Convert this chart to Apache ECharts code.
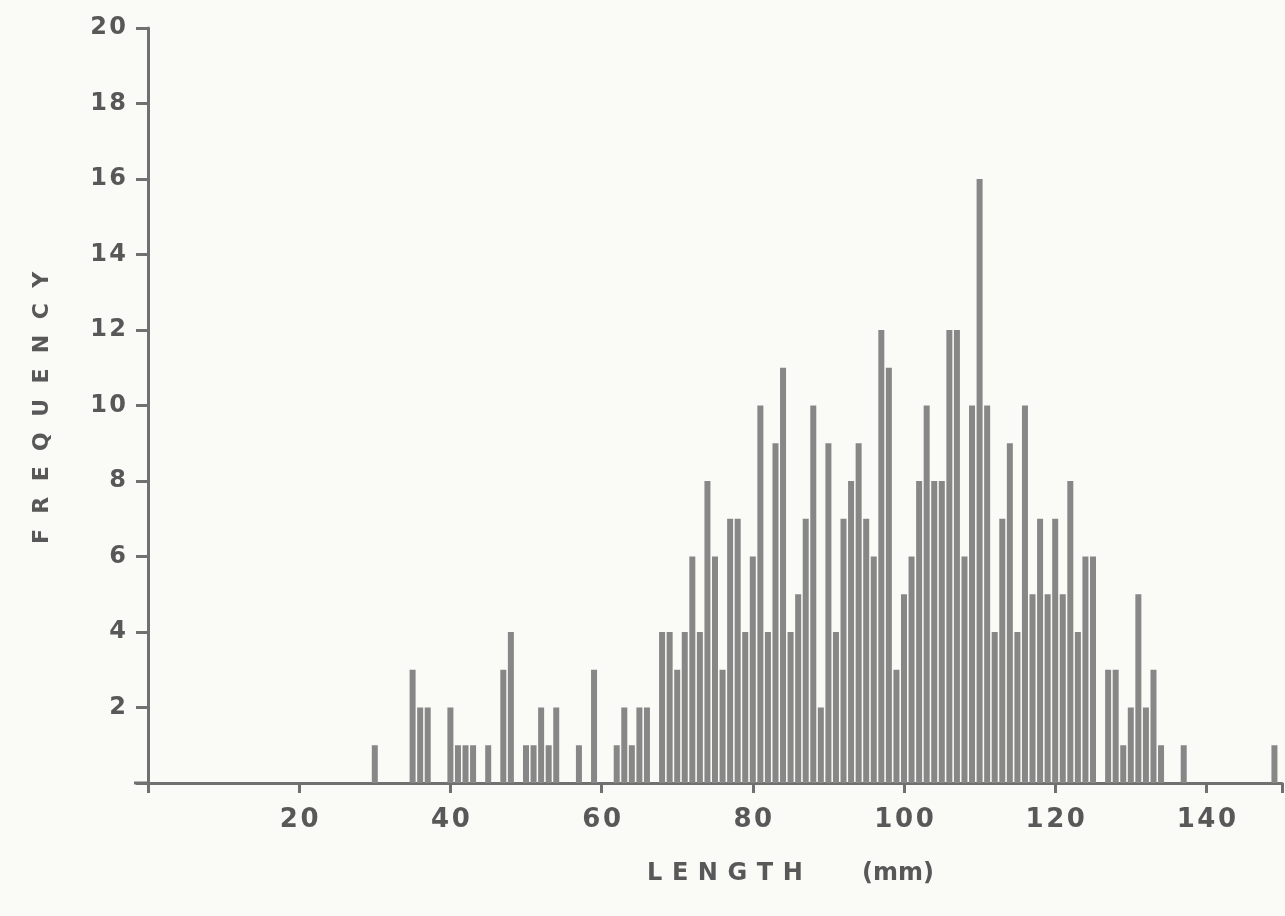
<!DOCTYPE html>
<html>
<head>
<meta charset="utf-8">
<title>Length frequency</title>
<script src="https://cdn.jsdelivr.net/npm/echarts@6/dist/echarts.min.js"></script>
<style>
  html, body { margin: 0; padding: 0; background: #fafaf6; }
  #chart { width: 1285px; height: 916px; }
</style>
</head>
<body>
<div id="chart"></div>
<script>
// length classes (mm) and their counts
const lengths = [
  30, 35, 36, 37, 40, 41, 42, 43, 45, 47, 48, 50, 51, 52, 53, 54, 57, 59,
  62, 63, 64, 65, 66, 68, 69, 70, 71, 72, 73, 74, 75, 76, 77, 78, 79,
  80, 81, 82, 83, 84, 85, 86, 87, 88, 89, 90, 91, 92, 93, 94, 95, 96, 97, 98, 99,
  100, 101, 102, 103, 104, 105, 106, 107, 108, 109, 110, 111, 112, 113, 114, 115,
  116, 117, 118, 119, 120, 121, 122, 123, 124, 125, 127, 128, 129, 130, 131, 132,
  133, 134, 137, 149
];
const counts = [
  1, 3, 2, 2, 2, 1, 1, 1, 1, 3, 4, 1, 1, 2, 1, 2, 1, 3,
  1, 2, 1, 2, 2, 4, 4, 3, 4, 6, 4, 8, 6, 3, 7, 7, 4,
  6, 10, 4, 9, 11, 4, 5, 7, 10, 2, 9, 4, 7, 8, 9, 7, 6, 12, 11, 3,
  5, 6, 8, 10, 8, 8, 12, 12, 6, 10, 16, 10, 4, 7, 9, 4,
  10, 5, 7, 5, 7, 5, 8, 4, 6, 6, 3, 3, 1, 2, 5, 2,
  3, 1, 1, 1
];
const xTicks = [20, 40, 60, 80, 100, 120, 140];
const yTicks = [2, 4, 6, 8, 10, 12, 14, 16, 18, 20];

const ink = '#585858';
const axisGrey = '#707070';
const spaced = (s, sep) => s.split('').join(sep);
const font = { fontFamily: 'DejaVu Sans', fontWeight: 'bold', fill: ink };

const chart = echarts.init(document.getElementById('chart'));
chart.setOption({
  backgroundColor: '#fafaf6',
  animation: false,
  grid: { left: 148, right: 0, top: 28, bottom: 133 },
  xAxis: {
    type: 'value',
    min: 0,
    max: 150,
    interval: 20,
    axisLine: { onZero: false, lineStyle: { color: axisGrey, width: 3 } },
    axisTick: { show: true, length: 10, lineStyle: { color: axisGrey, width: 3 } },
    axisLabel: {
      margin: 24,
      fontFamily: 'DejaVu Sans',
      fontWeight: 'bold',
      fontSize: 26,
      color: ink,
      formatter: v => (xTicks.includes(v) ? spaced(String(v), '\u200a') : '')
    },
    splitLine: { show: false }
  },
  yAxis: {
    type: 'value',
    min: 0,
    max: 20,
    interval: 2,
    axisLine: { show: true, lineStyle: { color: axisGrey, width: 3 } },
    axisTick: { show: true, length: 12, lineStyle: { color: axisGrey, width: 3 } },
    axisLabel: {
      margin: 22,
      fontFamily: 'DejaVu Sans',
      fontWeight: 'bold',
      fontSize: 24,
      color: ink,
      formatter: v => (yTicks.includes(v) ? spaced(String(v), '\u200a') : '')
    },
    splitLine: { show: false }
  },
  graphic: [
    {
      type: 'text',
      x: 42, y: 408,
      rotation: Math.PI / 2,
      style: Object.assign({
        text: spaced('FREQUENCY', '\u2002\u2009'),
        fontSize: 22,
        align: 'center',
        verticalAlign: 'middle'
      }, font)
    },
    {
      type: 'text',
      x: 647, y: 874,
      style: Object.assign({
        text: spaced('LENGTH', '\u2009\u2009'),
        fontSize: 24,
        align: 'left',
        verticalAlign: 'middle'
      }, font)
    },
    {
      type: 'text',
      x: 862, y: 874,
      style: Object.assign({
        text: '(mm)',
        fontSize: 24,
        align: 'left',
        verticalAlign: 'middle'
      }, font)
    },
    {
      type: 'line',
      shape: { x1: 134, y1: 783, x2: 148, y2: 783 },
      style: { stroke: axisGrey, lineWidth: 3 }
    }
  ],
  series: [{
    type: 'bar',
    barWidth: 6,
    itemStyle: { color: '#878787' },
    data: lengths.map((l, i) => [l, counts[i]])
  }]
});
</script>
</body>
</html>
